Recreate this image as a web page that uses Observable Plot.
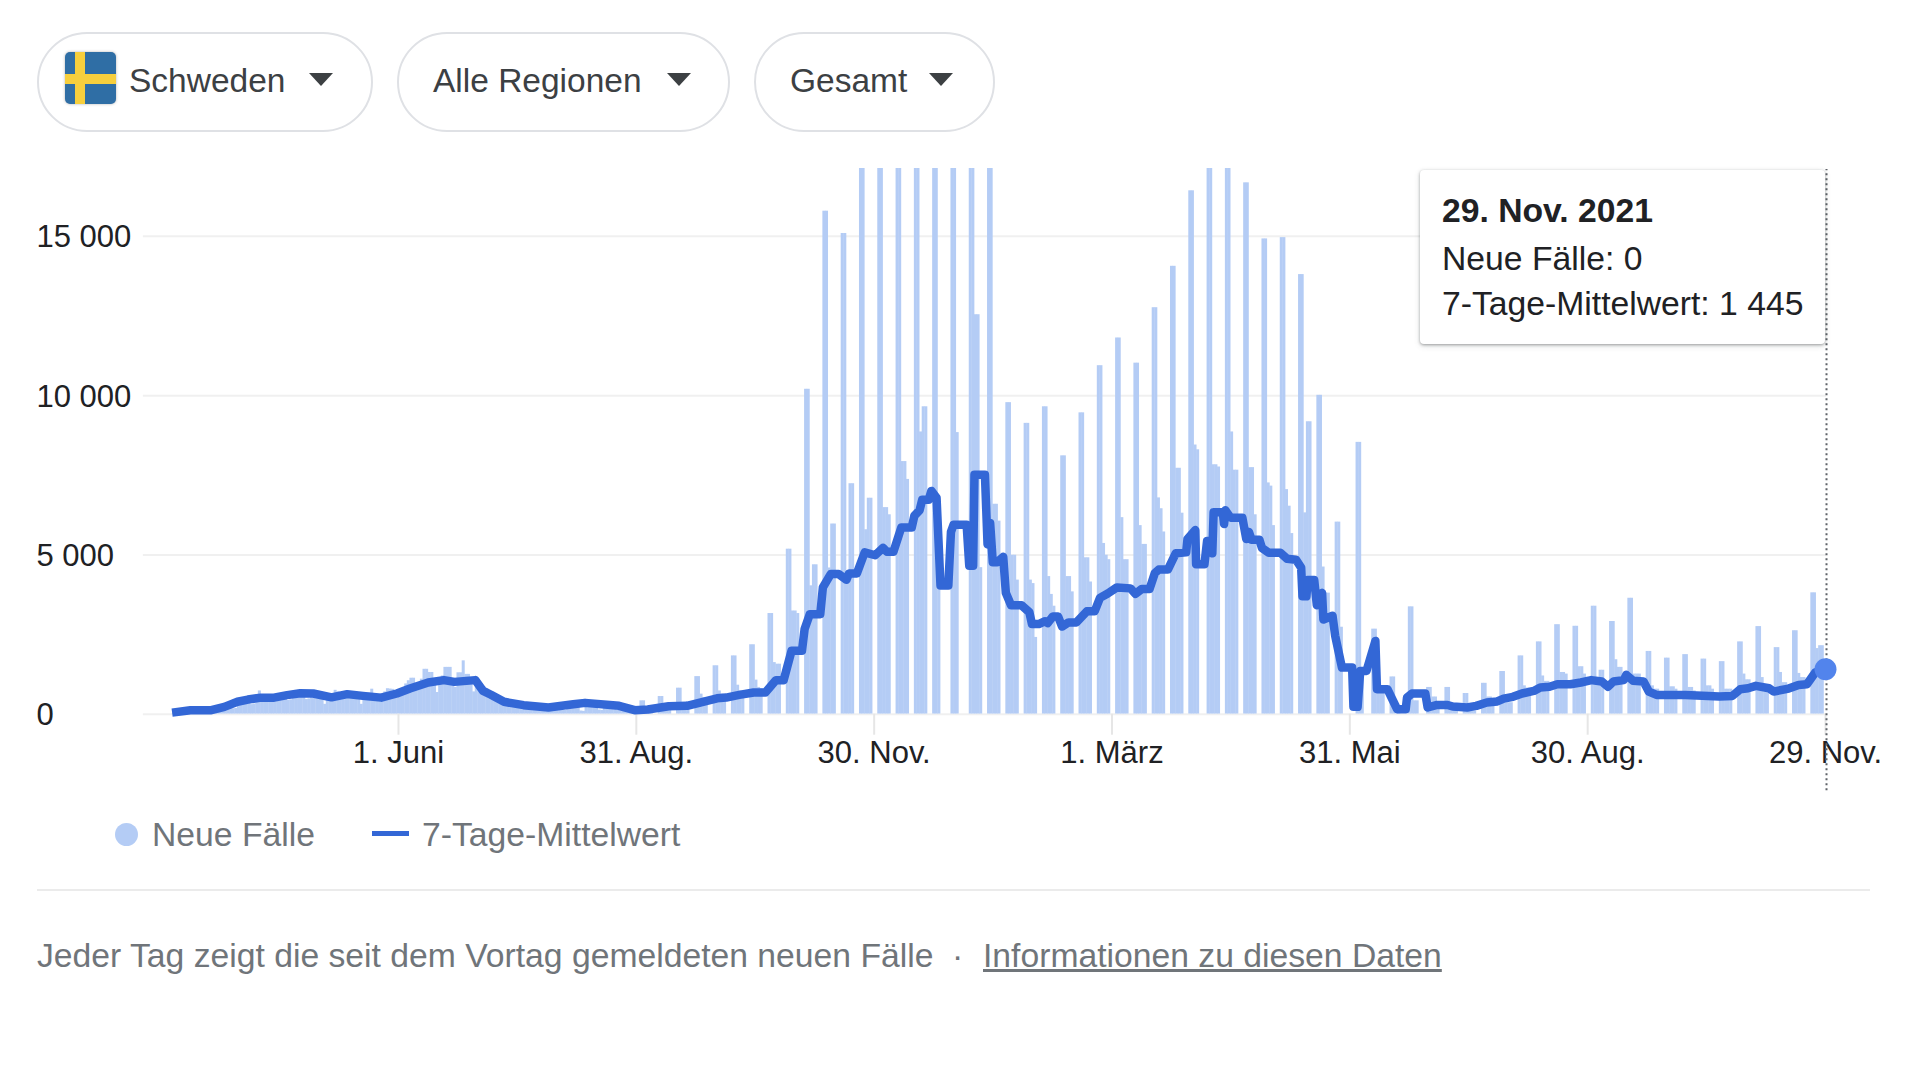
<!DOCTYPE html>
<html lang="de">
<head>
<meta charset="utf-8">
<title>Schweden – Neue Fälle</title>
<script src="https://cdn.jsdelivr.net/npm/d3@7"></script>
<script src="https://cdn.jsdelivr.net/npm/@observablehq/plot@0.6"></script>
<style>
  html, body { margin: 0; padding: 0; background: #fff; width: 1920px; height: 1079px; overflow: hidden; font-family: "Liberation Sans", Arial, sans-serif; }
  #stage { position: relative; width: 1920px; height: 1079px; }
  #chart { position: absolute; left: 0; top: 0; }
  #chart svg { display: block; }
  .abs { position: absolute; white-space: nowrap; }
  .chip { position: absolute; top: 32px; height: 96px; border: 2px solid #dfe1e5; border-radius: 50px; background: #fff; box-sizing: content-box; }
  .chiplabel { position: absolute; top: 60px; line-height: 42px; font-size: 33.5px; color: #3c4043; white-space: nowrap; }
  .caret { position: absolute; top: 73px; width: 0; height: 0; border-left: 12px solid transparent; border-right: 12px solid transparent; border-top: 13px solid #3c4043; }
  #flag { position: absolute; left: 65px; top: 52px; width: 51px; height: 52px; border-radius: 5px; background: #2f6ea5; overflow: hidden; box-shadow: 0 0 3px rgba(0,0,0,.3); }
  #flag i { position: absolute; background: #f7cf3d; display: block; }
  #tip { position: absolute; left: 1420px; top: 170px; width: 405px; height: 174px; background: #fff; border-radius: 4px; box-shadow: 0 1px 3px rgba(60,64,67,.45), 0 2px 6px rgba(60,64,67,.15); }
  #tip div { position: absolute; left: 22px; white-space: nowrap; font-size: 33.7px; line-height: 40px; color: #202124; }
  .legend { position: absolute; top: 814px; line-height: 40px; font-size: 33.7px; color: #70757a; white-space: nowrap; }
  .foot { position: absolute; top: 935px; line-height: 40px; font-size: 33.7px; color: #70757a; white-space: nowrap; }
</style>
</head>
<body>
<div id="stage">
  <div id="chart"></div>

  <div class="chip" style="left:37px;width:332px"></div>
  <div id="flag"><i style="left:10px;top:0;width:10px;height:52px"></i><i style="left:0;top:22px;width:51px;height:10px"></i></div>
  <div class="chiplabel" style="left:129px">Schweden</div>
  <div class="caret" style="left:309px"></div>

  <div class="chip" style="left:397px;width:329px"></div>
  <div class="chiplabel" style="left:433px">Alle Regionen</div>
  <div class="caret" style="left:667px"></div>

  <div class="chip" style="left:754px;width:237px"></div>
  <div class="chiplabel" style="left:790px">Gesamt</div>
  <div class="caret" style="left:929px"></div>

  <div id="tip">
    <div style="top:20px;font-weight:700">29. Nov. 2021</div>
    <div style="top:68px">Neue Fälle: 0</div>
    <div style="top:113px">7-Tage-Mittelwert: 1 445</div>
  </div>

  <div class="abs" style="left:115px;top:823px;width:23px;height:23px;border-radius:50%;background:#b4ccf5"></div>
  <div class="legend" style="left:152px">Neue Fälle</div>
  <div class="abs" style="left:372px;top:831px;width:37px;height:5px;background:#3367d6"></div>
  <div class="legend" style="left:422px">7-Tage-Mittelwert</div>

  <div class="abs" style="left:37px;top:889px;width:1833px;height:2px;background:#ebebeb"></div>
  <div class="foot" style="left:37px">Jeder Tag zeigt die seit dem Vortag gemeldeten neuen Fälle</div>
  <div class="foot" style="left:952px">·</div>
  <div class="foot" style="left:983px;text-decoration:underline">Informationen zu diesen Daten</div>
</div>

<script>
// Weekly rows, Tuesday to Monday, 3 Mar 2020 to 31 Aug 2020
const casesEarlyStart = "2020-03-03";
const casesEarly = [
  [0,0,0,20,40,60,90],
  [120,130,130,140,120,100,90],
  [110,120,130,140,150,110,120],
  [200,220,240,260,250,170,180],
  [300,360,400,420,430,300,320],
  [500,730,560,540,500,420,430],
  [520,560,600,620,560,430,450],
  [600,640,700,620,570,460,480],
  [650,680,700,640,600,310,480],
  [550,600,750,700,650,480,500],
  [640,700,680,640,600,310,500],
  [600,660,785,600,550,450,480],
  [700,800,790,780,700,580,620],
  [800,950,1050,1130,1130,900,800],
  [1100,1410,1410,1310,1310,1000,680],
  [1000,1200,1470,1470,1470,1000,840],
  [1300,1300,1675,1250,1250,1100,700],
  [900,1000,950,850,800,550,500],
  [650,600,550,520,480,330,330],
  [420,400,370,370,350,250,240],
  [320,320,300,290,280,190,180],
  [280,270,260,260,240,130,120],
  [240,250,240,230,220,100,90],
  [280,290,300,280,260,130,120],
  [350,330,320,300,280,120,110],
  [300,280,260,230,200,90,70]
];
// Weekly rows, Tuesday to Saturday (Sunday and Monday have no report), from 1 Sep 2020
const casesLateStart = "2020-09-01";
const casesLate = [
  [420,420,200,180,150],[555,555,250,230,200],[817,817,310,290,250],[1180,1180,630,520,480],[1520,1520,730,630,600],
  [1830,1830,910,730,700],[2180,2180,1070,840,800],[3160,3160,1620,1570,1570],[5180,5180,3240,3240,3160],
  [10200,10200,4030,4690,4690],[15790,15790,4590,5970,5970],[15090,15090,4470,7235,7235],[17500,17500,5790,6780,6780],
  [17500,17500,6485,6485,6260],[17500,17500,7930,7930,7370],[17500,17500,8860,9650,9650],[17500,17500,4000,0,0],[17500,17500,8840,0,0],
  [17500,17500,12540,12540,4600],[17500,17500,6590,6590,6060],[9780,9780,4990,4990,4210],[9130,9130,4210,4100,2410],
  [9650,9650,4320,3760,3390],[8110,8110,4320,4320,3840],[9460,9460,4910,4910,4150],[10940,10940,5360,4990,4850],
  [11810,11810,6170,4850,4850],[11020,11020,5920,5330,5330],[12760,12760,6790,6450,5720],[14060,14060,7720,7720,6310],[16430,16430,8450,8300,0],
  [17500,17500,7830,7830,7760],[17500,17500,8860,7660,7660],[16680,16680,7740,7740,6260],[14920,14920,7260,7160,5920],
  [14960,14960,7050,6530,5670],[13800,13800,6320,9180,9180],[10010,10010,4620,3800,3800],[6030,6030,2730,0,0],
  [0,8533,8533,1100,0],[2670,2670,785,785,785],[1170,1170,200,200,0],[3370,3370,420,420,0],[840,840,540,540,310],
  [840,840,200,200,200],[650,650,100,100,100],[970,970,540,540,310],[1340,1340,360,360,360],
  [1830,1830,890,820,820],[2270,2270,1200,1030,1030],[2810,2810,1310,1310,1260],[2760,2760,1490,1490,1260],[3390,3390,1150,1380,1380],
  [2910,2910,1710,1470,1470],[3640,3640,1260,1260,1260],[1970,1970,890,785,785],[1760,1760,860,860,785],
  [1870,1870,840,840,730],[1730,1730,890,890,785],[1650,1650,785,785,785],[2270,2270,1260,1080,1080],
  [2750,2750,1150,890,890],[2090,2090,1310,990,990],[2620,2620,1280,1150,1150],[3810,3810,2060,2150,2150]
];
// 7-day average, read at the vertices of the line (days after 6 Mar 2020)
const lineStart = "2020-03-06";
const lineDays = [0,7,15,20,25,29,34,39,44,49,54,61,67,73,80,86,91,98,104,108,116,119,122,127,134.5,144,153.5,158,171,177,182,190,197,202,208.5,212,217,222.5,227,231,234,237,241,242,244,248,249,252,255,258,259,262,265,269,272,273.5,276,279,283,284,286,287,289.5,290.5,292.5,294,297,298,299,304,305,306.5,307,311,312,313,314,315.7,318,319,321,325,328,329,331.6,334,335,337,339,340.5,343,346,350,353,355,358,361.5,366.7,368.6,371,374,376,377.5,381,384,388,388.5,391.5,391.8,395,396,397,398,398.5,402,402.5,403,405,409.5,411,412,413,416,417,419.6,424,426.6,430,432,432.5,434,434.5,437,438,440,440.5,444,445,447.6,451.5,452,453.6,454.6,457,460.4,461,465,468.7,472,472.5,474.4,479.5,480.4,484,488,490,495.5,499,503,507,509.5,513,516.5,521,523.5,527,530,535,539,543,547,549.4,551.5,555.4,556.4,559,563,565,568,579,592,597,600,603,606,611,612.8,618.5,622.3,625.5,628.7,633];
const lineValues = [50,125,125,230,390,460,520,520,600,660,650,530,630,575,520,650,805,995,1070,1015,1070,730,610,390,283,210,314,356,262,125,147,251,262,366,500,523,607,680,680,1068,1068,1990,1990,2670,3140,3140,3980,4400,4400,4220,4420,4420,5080,4990,5220,5100,5100,5860,5860,6230,6400,6730,6730,7010,6790,4040,4040,5720,5950,5950,4660,4660,7520,7520,5330,6000,4770,4770,4940,3810,3420,3420,3200,2830,2830,2920,2860,3070,3070,2750,2880,2880,3230,3230,3650,3790,3980,3950,3780,3930,3930,4430,4540,4540,5050,5080,5500,5780,4710,4710,5440,5440,5050,6340,6340,5970,6400,6170,6170,5500,5720,5480,5480,5220,5070,5070,4880,4850,4600,3700,3700,4210,4210,3420,3810,2970,3090,2470,1465,1465,230,230,1360,1360,2300,785,785,157,157,520,650,650,210,290,290,240,210,260,365,400,490,545,650,730,840,860,940,940,995,1070,1025,860,1025,1070,1235,1050,1025,710,605,605,555,575,785,815,890,815,710,805,920,940,1310,1445];
const yTicks = [0,5000,10000,15000];
const xTickDates = ["2020-06-01","2020-08-31","2020-11-30","2021-03-01","2021-05-31","2021-08-30","2021-11-29"];
const xTickLabels = ["1. Juni","31. Aug.","30. Nov.","1. März","31. Mai","30. Aug.","29. Nov."];
const lastDate = "2021-11-29";
const lastValue = 1445;
const gridStart = "2020-02-24";

const barColor = "#b4ccf5", lineColor = "#3367d6", dotColor = "#5284ec";
const U = s => new Date(s + "T00:00:00Z");

const bars = [];
casesEarly.flat().forEach((v, i) => bars.push({d: d3.utcDay.offset(U(casesEarlyStart), i), v}));
casesLate.forEach((row, w) => row.forEach((v, j) => bars.push({d: d3.utcDay.offset(U(casesLateStart), w * 7 + j), v})));
const nonZero = bars.filter(b => b.v > 0);
const line = lineDays.map((n, i) => ({d: new Date(+U(lineStart) + n * 864e5), v: lineValues[i]}));
const xTicks = xTickDates.map(U);
const labelOf = d => xTickLabels[xTicks.findIndex(t => +t === +d)];

const H = 830, plotTop = 168, plotBottom = 713.7, left = 171.6, right = 1826;
const fmt = v => d3.format(",")(v).replace(/,/g, " ");

const plot = Plot.plot({
  width: 1920, height: H,
  marginTop: plotTop, marginBottom: H - plotBottom, marginLeft: left, marginRight: 1920 - right,
  style: {fontFamily: '"Liberation Sans", Arial, sans-serif', background: "transparent", overflow: "visible"},
  x: {type: "utc", domain: [U(lineStart), U(lastDate)]},
  y: {domain: [0, 17130]},
  marks: [
    Plot.ruleY(yTicks, {x1: U(gridStart), x2: U(lastDate), stroke: "#f0f0f0", strokeWidth: 2}),
    Plot.rectY(nonZero, {x1: "d", x2: b => d3.utcDay.offset(b.d, 1), y: "v", fill: barColor, insetRight: -0.4, clip: true}),
    Plot.axisX({ticks: xTicks, tickFormat: labelOf, tickSize: 21, tickPadding: 6, dx: -1, stroke: "#e6e6e6", strokeWidth: 2, strokeOpacity: 1, fontSize: 31, fill: "#202124", label: null}),
    Plot.axisY({ticks: yTicks, tickFormat: fmt, tickSize: 0, tickPadding: 0, textAnchor: "start", dx: 36 - left, dy: 1, fontSize: 31, fill: "#202124", label: null}),
    Plot.line(line, {x: "d", y: "v", stroke: lineColor, strokeWidth: 8.5, strokeLinejoin: "round", strokeLinecap: "butt"}),
    Plot.ruleX([U(lastDate)], {y1: -2400, y2: 17100, stroke: "#5f6368", strokeWidth: 2, strokeDasharray: "2,3"}),
    Plot.dot([{d: U(lastDate), v: lastValue}], {x: "d", y: "v", r: 11, dx: -1, dy: 1, fill: dotColor})
  ]
});
document.getElementById("chart").appendChild(plot);
</script>
</body>
</html>
